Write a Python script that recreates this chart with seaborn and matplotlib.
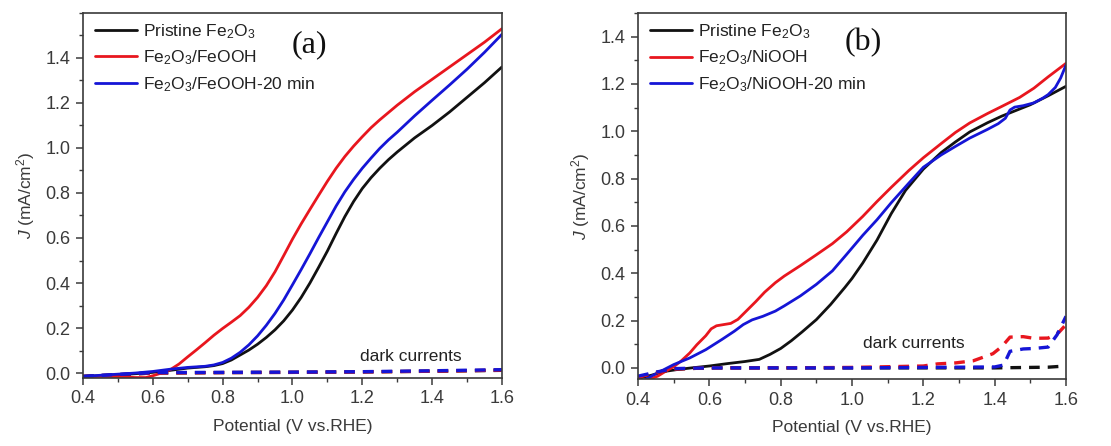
import numpy as np
import pandas as pd
import matplotlib
matplotlib.use("Agg")
import matplotlib.pyplot as plt
from matplotlib.ticker import MultipleLocator
import seaborn as sns

# ---------------- data: panel (a) ----------------
a_black_x = [0.40, 0.45, 0.50, 0.55, 0.60, 0.65, 0.70, 0.75, 0.775, 0.80, 0.825, 0.85, 0.875, 0.90, 0.925, 0.95, 0.975,
             1.00, 1.025, 1.05, 1.075, 1.10, 1.125, 1.15, 1.175, 1.20, 1.225, 1.25, 1.275, 1.30, 1.35, 1.40, 1.45, 1.50, 1.55, 1.60]
a_black_y = [-0.015, -0.012, -0.008, -0.003, 0.003, 0.012, 0.022, 0.028, 0.033, 0.042, 0.058, 0.080, 0.102, 0.128, 0.158, 0.192, 0.232,
             0.280, 0.336, 0.400, 0.470, 0.542, 0.620, 0.695, 0.762, 0.820, 0.868, 0.910, 0.948, 0.982, 1.045, 1.100, 1.160, 1.225, 1.290, 1.360]

a_red_x = [0.40, 0.45, 0.50, 0.55, 0.58, 0.60, 0.625, 0.65, 0.675, 0.70, 0.725, 0.75, 0.775, 0.80, 0.825, 0.85, 0.875, 0.90, 0.925, 0.95, 0.975,
           1.00, 1.025, 1.05, 1.075, 1.10, 1.125, 1.15, 1.175, 1.20, 1.225, 1.25, 1.30, 1.35, 1.40, 1.45, 1.50, 1.55, 1.60]
a_red_y = [-0.015, -0.015, -0.016, -0.020, -0.020, -0.012, 0.000, 0.015, 0.040, 0.072, 0.103, 0.135, 0.168, 0.198, 0.226, 0.255, 0.292, 0.336, 0.388, 0.450, 0.522,
           0.595, 0.663, 0.727, 0.790, 0.852, 0.910, 0.962, 1.008, 1.050, 1.090, 1.125, 1.190, 1.250, 1.305, 1.360, 1.415, 1.470, 1.530]

a_blue_x = [0.40, 0.45, 0.50, 0.55, 0.60, 0.65, 0.70, 0.75, 0.775, 0.80, 0.825, 0.85, 0.875, 0.90, 0.925, 0.95, 0.975,
            1.00, 1.025, 1.05, 1.075, 1.10, 1.125, 1.15, 1.175, 1.20, 1.225, 1.25, 1.275, 1.30, 1.35, 1.40, 1.45, 1.50, 1.55, 1.60]
a_blue_y = [-0.015, -0.010, -0.005, 0.000, 0.007, 0.017, 0.025, 0.030, 0.036, 0.047, 0.066, 0.092, 0.125, 0.165, 0.212, 0.265, 0.325,
            0.392, 0.460, 0.530, 0.602, 0.672, 0.742, 0.805, 0.860, 0.910, 0.955, 0.998, 1.036, 1.070, 1.143, 1.212, 1.280, 1.350, 1.425, 1.505]

a_dark_x = [0.40, 0.60, 0.80, 1.00, 1.20, 1.40, 1.60]
a_dark_black = [-0.015, 0.000, 0.002, 0.003, 0.005, 0.008, 0.012]
a_dark_red = [-0.015, 0.000, 0.002, 0.003, 0.005, 0.008, 0.013]
a_dark_blue = [-0.015, 0.002, 0.003, 0.004, 0.006, 0.010, 0.015]

# ---------------- data: panel (b) ----------------
b_black_x = [0.40, 0.44, 0.47, 0.51, 0.55, 0.60, 0.65, 0.70, 0.74, 0.77, 0.80, 0.83, 0.86, 0.90, 0.94, 0.98,
             1.00, 1.03, 1.07, 1.11, 1.15, 1.20, 1.25, 1.29, 1.33, 1.38, 1.42, 1.46, 1.50, 1.55, 1.60]
b_black_y = [-0.045, -0.030, -0.016, -0.007, 0.000, 0.008, 0.018, 0.027, 0.036, 0.057, 0.082, 0.115, 0.152, 0.204, 0.268, 0.340,
             0.378, 0.443, 0.540, 0.652, 0.750, 0.840, 0.910, 0.955, 0.997, 1.036, 1.064, 1.088, 1.112, 1.150, 1.190]

b_red_x = [0.40, 0.43, 0.455, 0.48, 0.50, 0.52, 0.545, 0.565, 0.59, 0.605, 0.62, 0.64, 0.66, 0.68, 0.70, 0.73, 0.755, 0.785,
           0.81, 0.855, 0.90, 0.945, 0.985, 1.03, 1.07, 1.11, 1.16, 1.20, 1.25, 1.29, 1.33, 1.38, 1.42, 1.47, 1.51, 1.55, 1.60]
b_red_y = [-0.070, -0.049, -0.035, -0.012, 0.005, 0.028, 0.063, 0.098, 0.136, 0.165, 0.178, 0.183, 0.188, 0.205, 0.235, 0.280, 0.320, 0.360,
           0.388, 0.432, 0.478, 0.525, 0.575, 0.640, 0.703, 0.763, 0.835, 0.888, 0.948, 0.995, 1.035, 1.075, 1.105, 1.143, 1.182, 1.230, 1.287]

b_blue_x = [0.40, 0.42, 0.446, 0.473, 0.50, 0.545, 0.59, 0.635, 0.67, 0.695, 0.72, 0.75, 0.785, 0.81, 0.855, 0.90, 0.945, 0.985,
            1.03, 1.07, 1.11, 1.16, 1.20, 1.23, 1.25, 1.29, 1.33, 1.38, 1.41, 1.43, 1.443, 1.456, 1.48, 1.51, 1.535, 1.55, 1.57, 1.585, 1.60]
b_blue_y = [-0.070, -0.049, -0.028, -0.007, 0.014, 0.042, 0.077, 0.120, 0.155, 0.183, 0.203, 0.218, 0.240, 0.262, 0.304, 0.353, 0.410, 0.480,
            0.560, 0.626, 0.698, 0.782, 0.848, 0.879, 0.900, 0.936, 0.971, 1.008, 1.032, 1.055, 1.090, 1.102, 1.108, 1.120, 1.140, 1.155, 1.185, 1.225, 1.280]

b_dark_black_x = [0.40, 0.45, 0.50, 0.60, 0.80, 1.00, 1.20, 1.40, 1.55, 1.60]
b_dark_black_y = [-0.040, -0.020, -0.005, 0.000, 0.000, 0.000, 0.000, 0.000, 0.003, 0.008]

b_dark_red_x = [0.40, 0.45, 0.50, 0.60, 0.80, 1.00, 1.20, 1.24, 1.29, 1.34, 1.395, 1.42, 1.443, 1.48, 1.51, 1.55, 1.58, 1.60]
b_dark_red_y = [-0.040, -0.020, -0.005, 0.000, 0.000, 0.002, 0.008, 0.017, 0.021, 0.030, 0.060, 0.090, 0.130, 0.132, 0.125, 0.126, 0.150, 0.183]

b_dark_blue_x = [0.40, 0.45, 0.50, 0.60, 0.80, 1.00, 1.20, 1.40, 1.425, 1.443, 1.48, 1.51, 1.55, 1.575, 1.60]
b_dark_blue_y = [-0.035, -0.018, -0.003, 0.000, 0.000, 0.000, 0.002, 0.004, 0.012, 0.070, 0.080, 0.082, 0.088, 0.140, 0.218]

labels_a = ["Pristine Fe$_2$O$_3$", "Fe$_2$O$_3$/FeOOH", "Fe$_2$O$_3$/FeOOH-20 min"]
labels_b = ["Pristine Fe$_2$O$_3$", "Fe$_2$O$_3$/NiOOH", "Fe$_2$O$_3$/NiOOH-20 min"]
xticks = [0.4, 0.6, 0.8, 1.0, 1.2, 1.4, 1.6]
yticks = [0.0, 0.2, 0.4, 0.6, 0.8, 1.0, 1.2, 1.4]

# ---------------- style ----------------
sns.set_theme(style="ticks")
plt.rcParams["font.family"] = ["Liberation Sans", "DejaVu Sans"]
plt.rcParams["mathtext.fontset"] = "custom"
plt.rcParams["mathtext.rm"] = "Liberation Sans"
plt.rcParams["mathtext.it"] = "Liberation Sans:italic"
plt.rcParams["mathtext.bf"] = "Liberation Sans:bold"

BLACK = "#111111"
RED = "#e8161e"
BLUE = "#1515d6"
AXC = "#3a3a3a"

fig = plt.figure(figsize=(11.11, 4.46), dpi=100)
ax_a = fig.add_axes([0.0747, 0.1525, 0.3771, 0.8185])
ax_b = fig.add_axes([0.5743, 0.1502, 0.3852, 0.8208])


def draw_solid(ax, x, y, c, lab):
    sns.lineplot(x=x, y=y, ax=ax, color=c, lw=2.0, label=lab, sort=False)


def draw_dash(ax, x, y, c):
    sns.lineplot(x=x, y=y, ax=ax, color=c, lw=2.4, sort=False, legend=False,
                 linestyle=(0, (3.2, 2.4)))


# panel (a)
draw_dash(ax_a, a_dark_x, a_dark_black, BLACK)
draw_dash(ax_a, a_dark_x, a_dark_red, RED)
draw_solid(ax_a, a_black_x, a_black_y, BLACK, labels_a[0])
draw_solid(ax_a, a_red_x, a_red_y, RED, labels_a[1])
draw_solid(ax_a, a_blue_x, a_blue_y, BLUE, labels_a[2])
draw_dash(ax_a, a_dark_x, a_dark_blue, BLUE)

# panel (b)
draw_solid(ax_b, b_black_x, b_black_y, BLACK, labels_b[0])
draw_solid(ax_b, b_red_x, b_red_y, RED, labels_b[1])
draw_solid(ax_b, b_blue_x, b_blue_y, BLUE, labels_b[2])
draw_dash(ax_b, b_dark_black_x, b_dark_black_y, BLACK)
draw_dash(ax_b, b_dark_red_x, b_dark_red_y, RED)
draw_dash(ax_b, b_dark_blue_x, b_dark_blue_y, BLUE)

for ax, ylim, tag, tpos, dpos in [
    (ax_a, (-0.022, 1.6), "(a)", (0.54, 0.912), (0.661, 0.06)),
    (ax_b, (-0.047, 1.5), "(b)", (0.526, 0.918), (0.526, 0.096)),
]:
    ax.set_xlim(0.4, 1.6)
    ax.set_ylim(*ylim)
    ax.set_xticks(xticks)
    ax.set_xticklabels([f"{v:.1f}" for v in xticks])
    ax.set_yticks(yticks)
    ax.set_yticklabels([f"{v:.1f}" for v in yticks])
    ax.xaxis.set_minor_locator(MultipleLocator(0.1))
    ax.yaxis.set_minor_locator(MultipleLocator(0.1))
    ax.tick_params(which="major", direction="out", length=5, width=1.1,
                   color=AXC, labelsize=13, labelcolor=AXC, pad=4)
    ax.tick_params(which="minor", direction="out", length=3, width=1.0, color=AXC)
    for s in ax.spines.values():
        s.set_visible(True)
        s.set_color(AXC)
        s.set_linewidth(1.2)
    ax.set_xlabel("Potential (V vs.RHE)", fontsize=12.5, color=AXC, labelpad=8)
    ax.set_ylabel("$J$ (mA/cm$^2$)", fontsize=12.5, color=AXC, labelpad=6)
    ax.text(tpos[0], tpos[1], tag, transform=ax.transAxes, ha="center", va="center",
            fontsize=23, family="Liberation Serif", color="#111111")
    ax.text(dpos[0], dpos[1], "dark currents", transform=ax.transAxes, ha="left",
            va="center", fontsize=12.5, color="#222222")
    leg = ax.legend(loc="upper left", bbox_to_anchor=(0.029, 0.975), frameon=False,
                    fontsize=12.5, handlelength=2.4, handletextpad=0.35,
                    labelspacing=0.45, borderpad=0, borderaxespad=0)
    for t in leg.get_texts():
        t.set_color("#222222")

fig.savefig("out.png", dpi=100)
